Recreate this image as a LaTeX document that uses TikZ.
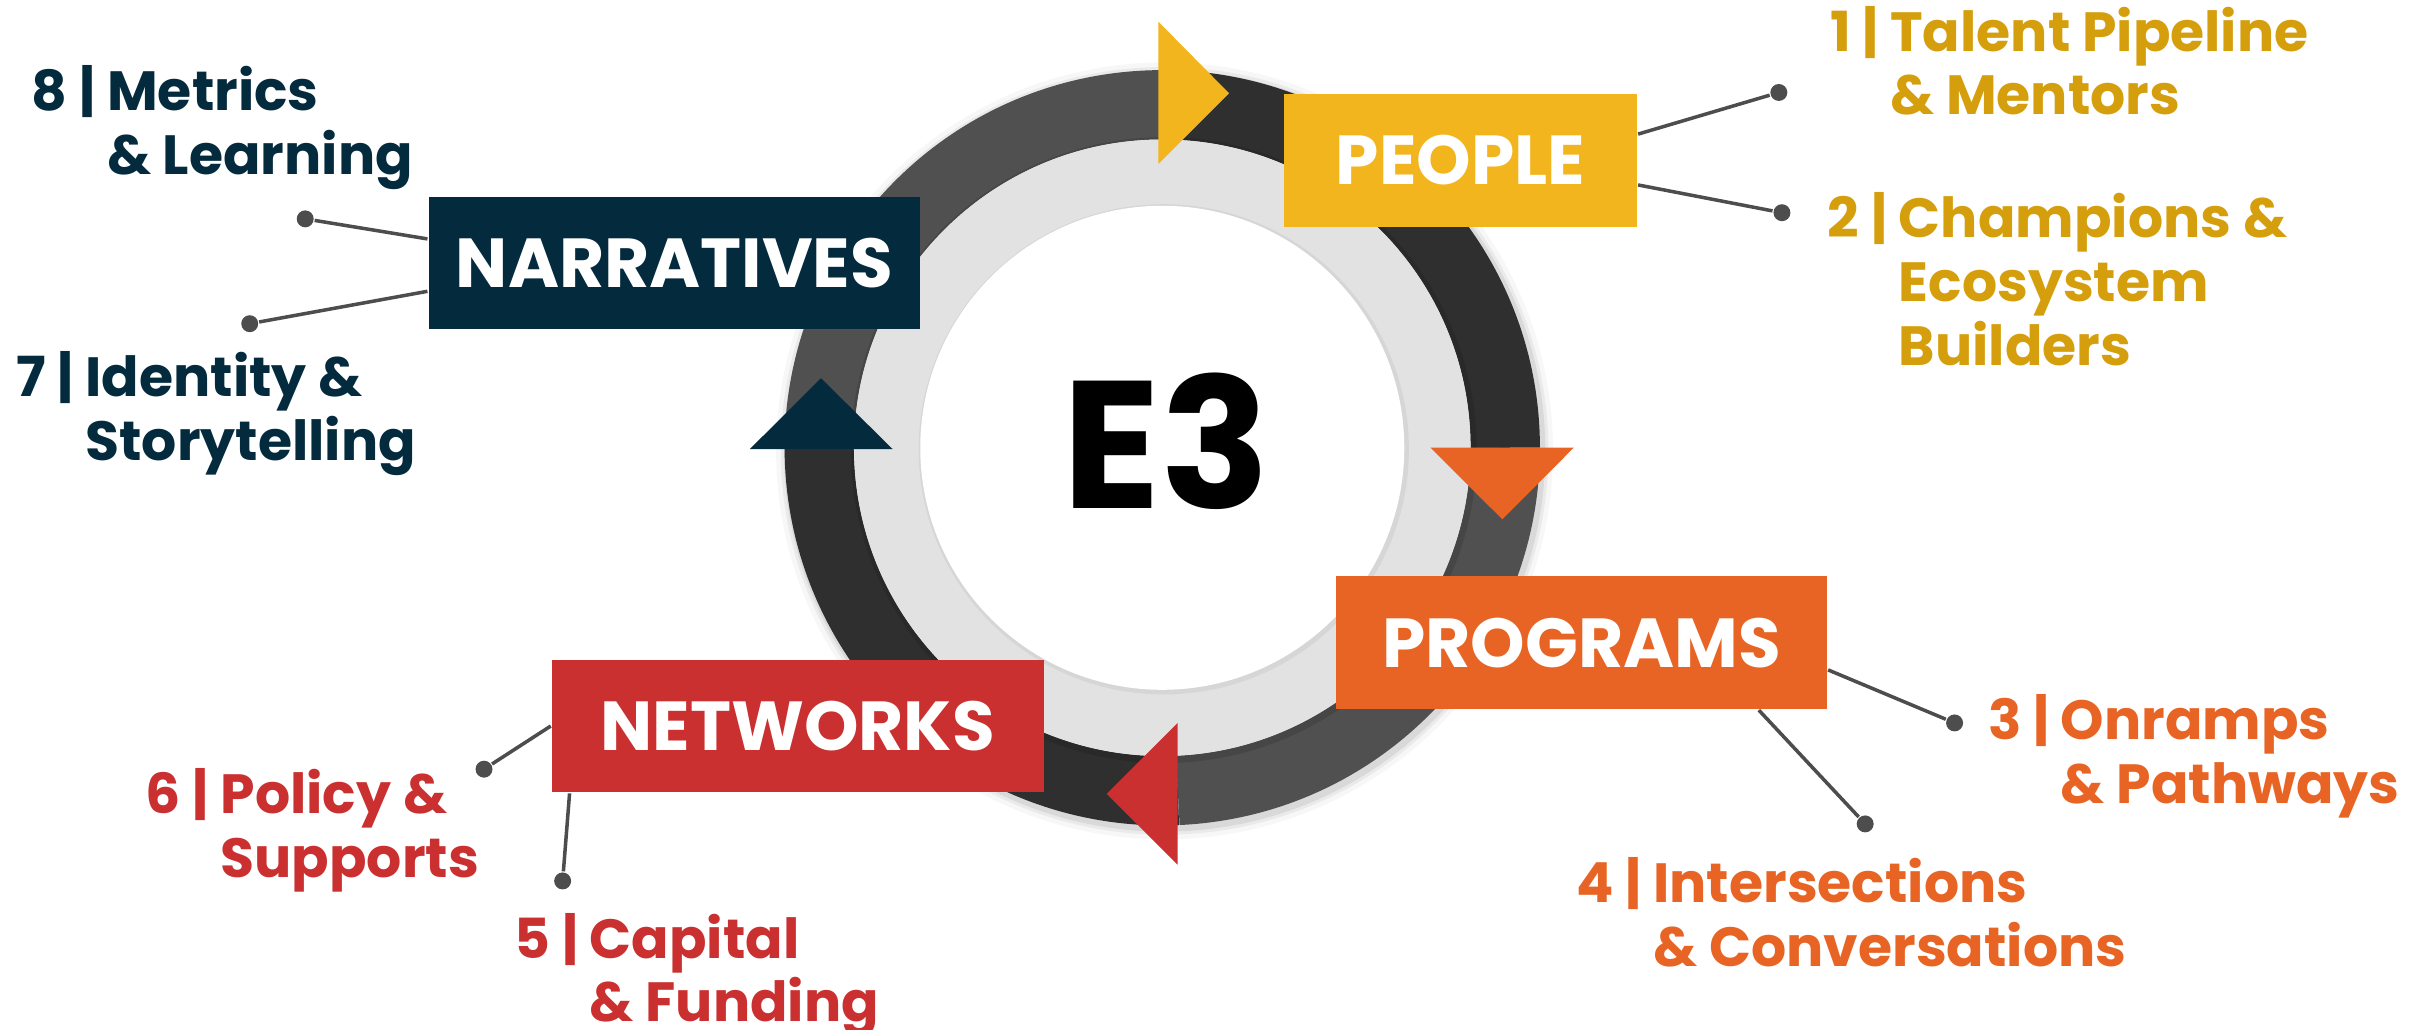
\documentclass[tikz,border=0pt]{standalone}
\usepackage{fontspec}
\setmainfont{Poppins}
\usepackage{tikz}
\usetikzlibrary{positioning}

\definecolor{peoplegold}{HTML}{F2B51E}
\definecolor{peopletext}{HTML}{D59E0C}
\definecolor{progorange}{HTML}{E86425}
\definecolor{netred}{HTML}{CA3030}
\definecolor{narrnavy}{HTML}{032A3D}
\definecolor{ringdark}{HTML}{2F2F2F}
\definecolor{ringlight}{HTML}{505050}
\definecolor{bandgrey}{HTML}{E2E2E2}
\definecolor{wiregrey}{HTML}{4D4D4D}

\newcommand{\indentfor}[1]{\hphantom{#1 | }}

\begin{document}
\begin{tikzpicture}[
  stage/.style={rectangle, inner sep=0pt, minimum height=0.86cm, text=white, font=\fontsize{12.8}{12.8}\selectfont\bfseries},
  point/.style={anchor=base west, align=left, inner sep=0pt, font=\fontsize{10.2}{11.8}\selectfont\bfseries},
  wire/.style={wiregrey, line width=0.65pt},
  dot/.style={circle, fill=wiregrey, inner sep=0pt, minimum size=0.11cm},
]
\useasboundingbox (0,0) rectangle (15.68,-6.68);

% soft shadow under the ring
\foreach \r/\o in {2.52/0.03, 2.49/0.05, 2.47/0.07}
  \fill[black, opacity=\o] (7.555,-2.925) circle (\r);

% ring
\foreach \a/\b/\c in {90/0/ringdark, 0/-87.4/ringlight, -87.4/-180/ringdark, 180/90/ringlight}
  \draw[\c, line width=0.45cm] (7.54,-2.905) ++(\a:2.225) arc[start angle=\a, end angle=\b, radius=2.225];
\fill[black, opacity=0.12] (7.55,-2.92) circle (2.03);
\fill[bandgrey] (7.54,-2.905) circle (2.0);
\fill[black, opacity=0.05] (7.55,-2.915) circle (1.59);
\fill[white] (7.54,-2.905) circle (1.57);

\fill[peoplegold] (7.514,-0.14) -- (7.514,-1.064) -- (7.973,-0.605) -- cycle;
\fill[progorange] (9.28,-2.904) -- (10.21,-2.904) -- (9.746,-3.369) -- cycle;
\fill[netred] (7.64,-4.69) -- (7.64,-5.61) -- (7.18,-5.15) -- cycle;
\fill[narrnavy] (4.865,-2.913) -- (5.79,-2.913) -- (5.326,-2.454) -- cycle;

\node[font=\fontsize{33.5}{33.5}\selectfont\bfseries, inner sep=0pt] (core) at (7.565,-2.865) {E3};

\node[stage, fill=peoplegold, minimum width=2.29cm] (people) at (9.475,-1.04) {PEOPLE};
\node[stage, fill=progorange, minimum width=3.185cm] (programs) at (10.26,-4.17) {PROGRAMS};
\node[stage, fill=netred, minimum width=3.19cm] (networks) at (5.175,-4.71) {NETWORKS};
\node[stage, fill=narrnavy, minimum width=3.19cm] (narratives) at (4.375,-1.705) {NARRATIVES};

\node[dot] (d1) at (11.54,-0.60) {};
\node[dot] (d2) at (11.56,-1.38) {};
\node[dot] (d3) at (12.68,-4.69) {};
\node[dot] (d4) at (12.10,-5.345) {};
\node[dot] (d5) at (3.65,-5.715) {};
\node[dot] (d6) at (3.14,-4.99) {};
\node[dot] (d7) at (1.62,-2.10) {};
\node[dot] (d8) at (1.98,-1.42) {};

\draw[wire] ([yshift=0.17cm]people.east) -- (d1);
\draw[wire] ([yshift=-0.16cm]people.east) -- (d2);
\draw[wire] ([yshift=-0.176cm]programs.east) -- (d3);
\draw[wire] ([xshift=1.15cm]programs.south) -- (d4);
\draw[wire] ([xshift=-1.48cm]networks.south) -- (d5);
\draw[wire] (networks.west) -- (d6);
\draw[wire] ([yshift=-0.185cm]narratives.west) -- (d7);
\draw[wire] ([yshift=0.155cm]narratives.west) -- (d8);

% labels sit on the baseline of their last line
\node[point, text=peopletext] (l1) at (11.865,-0.746) {1 | Talent Pipeline\\\indentfor{1}\& Mentors};
\node[point, text=peopletext] (l2) at (11.85,-2.37) {2 | Champions \&\\\indentfor{2}Ecosystem\\\indentfor{2}Builders};
\node[point, text=progorange] (l3) at (12.89,-5.21) {3 | Onramps\\\indentfor{3}\& Pathways};
\node[point, text=progorange] (l4) at (10.22,-6.27) {4 | Intersections\\\indentfor{4}\& Conversations};
\node[point, text=netred] (l5) at (3.33,-6.63) {5 | Capital\\\indentfor{5}\& Funding};
\node[point, text=netred] (l6) at (0.94,-5.69) {6 | Policy \&\\\indentfor{6}Supports};
\node[point, text=narrnavy] (l7) at (0.10,-2.985) {7 | Identity \&\\\indentfor{7}Storytelling};
\node[point, text=narrnavy] (l8) at (0.20,-1.13) {8 | Metrics\\\indentfor{8}\& Learning};

\end{tikzpicture}
\end{document}
